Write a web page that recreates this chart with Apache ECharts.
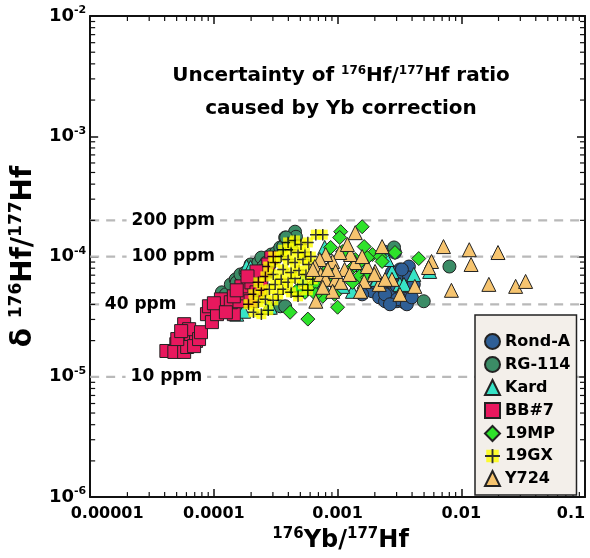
<!DOCTYPE html>
<html><head><meta charset="utf-8">
<script src="https://cdn.jsdelivr.net/npm/echarts@6/dist/echarts.min.js"></script>
<style>html,body{margin:0;padding:0;background:#fff}#c{width:590px;height:558px}</style>
</head><body><div id="c"></div>
<script>
// ---------- data ----------
const seriesNames = ['Rond-A','RG-114','Kard','BB#7','19MP','19GX','Y724'];
const xTickLabels = ['0.00001','0.0001','0.001','0.01','0.1'];
const ppmValues = [2e-4, 1e-4, 4e-5, 1e-5];
const ppmLabels = ['200 ppm','100 ppm','40 ppm','10 ppm'];

const rondA = [[1.91e-3,5.14e-5],[2.17e-3,4.58e-5],[2.42e-3,4.25e-5],[2.75e-3,4.85e-5],[3.02e-3,4.25e-5],[3.44e-3,4.17e-5],[3.77e-3,4.58e-5],[3.84e-3,5.14e-5],[3.77e-3,8.26e-5],[3.19e-3,7.81e-5],[2.75e-3,7.38e-5],[2.91e-3,1.08e-4],[2.38e-3,1.10e-4],[3.31e-3,6.70e-5],[2.29e-3,5.55e-5],[1.58e-3,4.85e-5],[2.61e-3,6.21e-5],[3.77e-3,6.70e-5],[3.02e-3,4.41e-5],[3.63e-3,4.01e-5],[3.98e-3,4.58e-5],[3.31e-3,7.81e-5],[2.42e-3,4.85e-5],[2.65e-3,4.01e-5],[2.09e-3,5.87e-5],[3.02e-3,5.65e-5],[3.44e-3,5.65e-5],[4.13e-3,5.87e-5]];
const rg114 = [[1.16e-4,5.04e-5],[1.25e-4,4.85e-5],[1.37e-4,5.87e-5],[1.50e-4,6.46e-5],[1.53e-4,6.10e-5],[1.64e-4,7.10e-5],[1.80e-4,7.38e-5],[1.98e-4,6.84e-5],[1.98e-4,8.59e-5],[2.21e-4,7.81e-5],[2.29e-4,8.92e-5],[2.42e-4,9.8e-5],[2.65e-4,8.92e-5],[2.91e-4,1.04e-4],[3.19e-4,1.08e-4],[3.44e-4,1.19e-4],[3.63e-4,1.21e-4],[3.77e-4,1.44e-4],[3.98e-4,1.38e-4],[4.37e-4,1.46e-4],[4.53e-4,1.61e-4],[4.61e-4,1.46e-4],[3.84e-4,1.44e-4],[3.44e-4,3.86e-5],[3.77e-4,3.86e-5],[8.02e-3,8.26e-5],[4.97e-3,4.25e-5],[4.21e-4,1.26e-4],[2.51e-4,8.26e-5],[3.02e-4,9.62e-5],[2.86e-3,1.19e-4]];
const kard = [[1.84e-4,8.26e-5],[1.98e-4,8.11e-5],[1.20e-4,3.51e-5],[1.53e-4,3.32e-5],[1.74e-4,3.51e-5],[2.75e-4,3.79e-5],[2.86e-4,3.79e-5],[7.87e-4,1.19e-4],[1.32e-3,5.14e-5],[1.10e-3,5.65e-5],[2.75e-3,7.52e-5],[4.13e-3,7.10e-5],[3.19e-3,5.87e-5],[5.55e-3,7.52e-5],[3.44e-3,5.87e-5],[5.25e-4,6.46e-5],[7.59e-4,5.87e-5],[1.58e-3,8.59e-5],[2.09e-3,6.46e-5],[2.51e-3,9.45e-5]];
const bb7 = [[4.13e-5,1.64e-5],[4.97e-5,1.87e-5],[4.79e-5,1.61e-5],[5.75e-5,1.61e-5],[5.75e-5,2.74e-5],[5.55e-5,2.27e-5],[6.55e-5,2.18e-5],[7.18e-5,1.99e-5],[6.08e-5,1.77e-5],[6.92e-5,1.80e-5],[5.06e-5,2.06e-5],[6.31e-5,2.49e-5],[7.59e-5,2.06e-5],[5.44e-5,2.40e-5],[7.87e-5,2.35e-5],[8.79e-5,3.32e-5],[9.64e-5,2.85e-5],[1.06e-4,3.51e-5],[1.20e-4,4.01e-5],[1.37e-4,4.25e-5],[1.27e-4,3.51e-5],[1.14e-4,4.41e-5],[9.12e-5,3.86e-5],[1.45e-4,3.32e-5],[1.06e-4,3.32e-5],[1.0e-4,4.09e-5],[1.37e-4,4.17e-5],[1.25e-4,3.44e-5],[1.61e-4,4.25e-5],[1.77e-4,4.94e-5],[1.45e-4,4.67e-5],[1.67e-4,5.65e-5],[2.01e-4,6.10e-5],[2.21e-4,5.04e-5],[1.98e-4,4.25e-5],[2.38e-4,5.34e-5],[2.42e-4,6.46e-5],[2.91e-4,9.8e-5],[2.75e-4,8.59e-5],[2.61e-4,7.52e-5],[2.21e-4,7.52e-5],[1.53e-4,5.24e-5],[1.87e-4,6.84e-5]];
const mp19 = [[1.58e-3,1.77e-4],[1.06e-3,1.61e-4],[1.04e-3,1.44e-4],[1.64e-3,1.21e-4],[8.79e-4,1.19e-4],[1.10e-3,1.10e-4],[1.91e-3,1.04e-4],[2.21e-3,1e-4],[1.74e-3,9.8e-5],[4.53e-3,9.62e-5],[1.50e-3,8.92e-5],[1.32e-3,8.11e-5],[1.20e-3,7.38e-5],[6.08e-4,5.55e-5],[5.45e-4,5.04e-5],[6.67e-4,6.10e-5],[7.59e-4,4.67e-5],[9.46e-4,4.85e-5],[1.0e-3,3.79e-5],[5.75e-4,3.02e-5],[1.50e-3,6.84e-5],[1.74e-3,6.70e-5],[1.32e-3,6.10e-5],[9.12e-4,6.10e-5],[2.91e-3,1.08e-4],[2.29e-3,9.10e-5],[1.39e-3,9.45e-5],[1.16e-3,1.04e-4],[6.67e-4,4.85e-5],[4.61e-4,5.14e-5],[4.13e-4,3.44e-5],[8.32e-4,7.81e-5],[7.31e-4,7.10e-5]];
const gx19 = [[2.09e-4,3.44e-5],[2.42e-4,3.32e-5],[2.75e-4,3.58e-5],[1.905e-4,4.01e-5],[2.29e-4,4.17e-5],[2.61e-4,4.41e-5],[3.02e-4,4.33e-5],[3.31e-4,4.85e-5],[2.09e-4,4.85e-5],[2.42e-4,5.24e-5],[2.81e-4,5.34e-5],[3.13e-4,5.87e-5],[3.63e-4,5.34e-5],[4.21e-4,5.04e-5],[4.79e-4,4.67e-5],[2.29e-4,6.10e-5],[2.61e-4,6.84e-5],[3.02e-4,7.10e-5],[3.50e-4,6.46e-5],[3.98e-4,6.10e-5],[4.53e-4,6.58e-5],[5.25e-4,5.87e-5],[5.75e-4,5.24e-5],[2.75e-4,8.26e-5],[3.13e-4,8.92e-5],[3.63e-4,7.81e-5],[4.21e-4,7.38e-5],[4.88e-4,7.66e-5],[5.55e-4,7.10e-5],[6.31e-4,6.46e-5],[3.02e-4,1e-4],[3.50e-4,1e-4],[3.98e-4,9.45e-5],[4.53e-4,8.92e-5],[5.25e-4,9.45e-5],[5.86e-4,8.59e-5],[3.63e-4,1.14e-4],[4.21e-4,1.14e-4],[4.79e-4,1.08e-4],[5.45e-4,1.08e-4],[6.08e-4,1e-4],[3.98e-4,1.31e-4],[4.53e-4,1.36e-4],[5.06e-4,1.26e-4],[5.75e-4,1.31e-4],[6.67e-4,1.52e-4],[7.59e-4,1.52e-4]];
const y724 = [[1.39e-3,1.58e-4],[2.29e-3,1.21e-4],[7.18e-3,1.21e-4],[1.16e-2,1.14e-4],[1.98e-2,1.08e-4],[1.20e-2,8.59e-5],[5.75e-3,9.10e-5],[5.44e-3,8.11e-5],[8.32e-3,5.24e-5],[4.21e-3,5.65e-5],[3.19e-3,4.85e-5],[2.75e-3,6.46e-5],[2.17e-3,5.87e-5],[2.01e-3,7.52e-5],[1.74e-3,8.26e-5],[1.64e-3,6.21e-5],[1.53e-3,5.14e-5],[1.39e-3,8.92e-5],[1.27e-3,1.04e-4],[1.04e-3,1.08e-4],[9.12e-4,9.10e-5],[8.02e-4,1.04e-4],[7.18e-4,9.45e-5],[6.55e-4,8.26e-5],[7.31e-4,7.10e-5],[8.02e-4,6.46e-5],[9.64e-4,6.46e-5],[1.06e-3,6.10e-5],[9.12e-4,5.14e-5],[7.59e-4,5.55e-5],[6.67e-4,4.25e-5],[1.14e-3,7.81e-5],[1.25e-3,7.10e-5],[9.64e-4,7.52e-5],[1.98e-3,7.10e-5],[2.42e-3,6.46e-5],[1.67e-2,5.87e-5],[2.75e-2,5.65e-5],[3.31e-2,6.21e-5],[8.32e-4,7.81e-5],[1.20e-3,1.26e-4],[1.58e-3,1.0e-4],[6.31e-4,7.81e-5]];

// ---------- chart ----------
const FONT = "'DejaVu Sans', sans-serif";
const xMin = 1e-5, xMax = 0.1, yMin = 1e-6, yMax = 1e-2;
const xMinor = [], yMinor = [];
for (let e = -5; e < -1; e++) for (let k = 2; k <= 9; k++) xMinor.push([k * Math.pow(10, e), 1e-4]);
for (let e = -6; e < -2; e++) for (let k = 2; k <= 9; k++) yMinor.push([1e-3, k * Math.pow(10, e)]);

const gxSvg = "<svg xmlns='http://www.w3.org/2000/svg' width='24' height='24'><rect x='2' y='2' width='20' height='20' fill='#ffff00'/><path d='M12 0V24M0 12H24' stroke='#000' stroke-width='3'/></svg>";
const gxSymbol = 'image://data:image/svg+xml;charset=utf-8,' + encodeURIComponent(gxSvg);

const border = {borderColor: '#222', borderWidth: 1};
function sc(name, data, symbol, size, color) {
  return {
    type: 'scatter', name, data, symbol, symbolSize: size, z: 2,
    itemStyle: Object.assign({color: color, opacity: 1}, border)
  };
}

const axisBase = {
  type: 'log', logBase: 10,
  axisLine: {show: true, onZero: false, lineStyle: {color: '#111', width: 2}},
  axisTick: {show: true, inside: true, length: 8, lineStyle: {color: '#111', width: 1.5}},
  splitLine: {show: false}
};

function minorTicks(list, isX) {
  return {
    type: 'custom', data: list, z: 3, silent: true,
    renderItem: function (params, api) {
      const cs = params.coordSys;
      const p = api.coord([api.value(0), api.value(1)]);
      const L = 5, st = {stroke: '#111', lineWidth: 1.2};
      if (isX) {
        return {type: 'group', children: [
          {type: 'line', shape: {x1: p[0], y1: cs.y + cs.height, x2: p[0], y2: cs.y + cs.height - L}, style: st},
          {type: 'line', shape: {x1: p[0], y1: cs.y, x2: p[0], y2: cs.y + L}, style: st}
        ]};
      }
      return {type: 'group', children: [
        {type: 'line', shape: {x1: cs.x, y1: p[1], x2: cs.x + L, y2: p[1]}, style: st},
        {type: 'line', shape: {x1: cs.x + cs.width, y1: p[1], x2: cs.x + cs.width - L, y2: p[1]}, style: st}
      ]};
    }
  };
}

const ppmLineSeries = ppmValues.map(function (v) {
  return {
    type: 'line', data: [[xMin, v], [xMax, v]], z: 1, silent: true, symbol: 'none',
    lineStyle: {color: '#b9b9b9', width: 2.2, type: [9, 7]}
  };
});

const chart = echarts.init(document.getElementById('c'), null, {renderer: 'canvas'});
chart.setOption({
  animation: false,
  textStyle: {fontFamily: FONT},
  title: {
    text: '{a|Uncertainty of }{s|176}{a|Hf/}{s|177}{a|Hf ratio}\n{a|caused by Yb correction}',
    left: 336, top: 54, textAlign: 'center',
    textStyle: {
      fontFamily: FONT, fontWeight: 'bold', fontSize: 20, color: '#000', lineHeight: 33, align: 'center',
      rich: {
        a: {fontFamily: FONT, fontWeight: 'bold', fontSize: 20, color: '#000', lineHeight: 33},
        s: {fontFamily: FONT, fontWeight: 'bold', fontSize: 12, color: '#000', lineHeight: 14, verticalAlign: 'top', padding: [6, 0, 0, 0]}
      }
    }
  },
  legend: {
    orient: 'vertical', left: 475, top: 315,
    padding: [18, 6, 8, 9], itemGap: 6, itemWidth: 15, itemHeight: 15,
    backgroundColor: '#f3efea', borderColor: '#222', borderWidth: 1.5, borderRadius: 0,
    data: seriesNames,
    textStyle: {fontFamily: FONT, fontWeight: 'bold', fontSize: 16, color: '#000'}
  },
  grid: {left: 85, right: 5, top: 16, bottom: 52, containLabel: false},
  xAxis: [
    Object.assign({}, axisBase, {
      min: xMin, max: xMax, position: 'bottom',
      name: '{s|176}{b|Yb/}{s|177}{b|Hf}', nameLocation: 'middle', nameGap: 22,
      nameTextStyle: {padding: [0, 0, 0, 6], rich: {
        b: {fontFamily: FONT, fontWeight: 'bold', fontSize: 24, color: '#000', lineHeight: 28},
        s: {fontFamily: FONT, fontWeight: 'bold', fontSize: 15, color: '#000', lineHeight: 16, verticalAlign: 'top'}
      }},
      axisLabel: {
        margin: 9, color: '#000', fontFamily: FONT, fontWeight: 'bold', fontSize: 16,
        formatter: function (v) {
          const i = Math.round(Math.log10(v)) + 5;
          if (i === 0) return '{f|' + xTickLabels[i] + '}';
          if (i === 4) return '{l|' + xTickLabels[i] + '}';
          return xTickLabels[i];
        },
        rich: {
          f: {fontFamily: FONT, fontWeight: 'bold', fontSize: 16, color: '#000', padding: [0, 0, 0, 34]},
          l: {fontFamily: FONT, fontWeight: 'bold', fontSize: 16, color: '#000', padding: [0, 28, 0, 0]}
        }
      }
    }),
    Object.assign({}, axisBase, {min: xMin, max: xMax, position: 'top', axisLabel: {show: false}})
  ],
  yAxis: [
    Object.assign({}, axisBase, {
      min: yMin, max: yMax, position: 'left',
      name: '{d|\u03b4 }{s|176}{b|Hf/}{s|177}{b|Hf}', nameLocation: 'middle', nameGap: 34, nameRotate: 90,
      nameTextStyle: {rich: {
        d: {fontFamily: FONT, fontWeight: 'bold', fontSize: 28, color: '#000', lineHeight: 32},
        b: {fontFamily: FONT, fontWeight: 'bold', fontSize: 28, color: '#000', lineHeight: 32},
        s: {fontFamily: FONT, fontWeight: 'bold', fontSize: 17, color: '#000', lineHeight: 17, verticalAlign: 'top'}
      }},
      axisLabel: {
        margin: 4, color: '#000',
        formatter: function (v) { return '{b|10}{s|' + Math.round(Math.log10(v)) + '}'; },
        rich: {
          b: {fontFamily: FONT, fontWeight: 'bold', fontSize: 18, color: '#000', lineHeight: 22},
          s: {fontFamily: FONT, fontWeight: 'bold', fontSize: 11, color: '#000', lineHeight: 12, verticalAlign: 'top'}
        }
      }
    }),
    Object.assign({}, axisBase, {min: yMin, max: yMax, position: 'right', axisLabel: {show: false}})
  ],
  series: ppmLineSeries.concat([
    sc('Rond-A', rondA, 'circle', 13, '#2f5f96'),
    sc('RG-114', rg114, 'circle', 13, '#3b8c66'),
    sc('Kard', kard, 'triangle', 14, '#36e3c6'),
    sc('BB#7', bb7, 'rect', 13, '#e8185e'),
    sc('19MP', mp19, 'diamond', 14, '#2ee22a'),
    {type: 'scatter', name: '19GX', data: gx19, symbol: gxSymbol, symbolSize: 12, z: 2, itemStyle: {color: '#ffff00'}},
    sc('Y724', y724, 'triangle', 14, '#f6c46f'),
    {
      type: 'scatter', z: 4, silent: true, symbolSize: 0,
      itemStyle: {opacity: 1},
      data: [[4.70e-5, ppmValues[0], ppmLabels[0]], [4.70e-5, ppmValues[1], ppmLabels[1]], [2.56e-5, ppmValues[2], ppmLabels[2]], [4.13e-5, ppmValues[3], ppmLabels[3]]],
      label: {
        show: true, position: 'inside', formatter: function (p) { return p.value[2]; },
        fontFamily: FONT, fontWeight: 'bold', fontSize: 17, color: '#000', opacity: 1,
        textBorderWidth: 0, backgroundColor: '#fff', padding: [1, 5, 1, 5]
      }
    },
    minorTicks(xMinor, true),
    minorTicks(yMinor, false)
  ])
});
</script></body></html>
